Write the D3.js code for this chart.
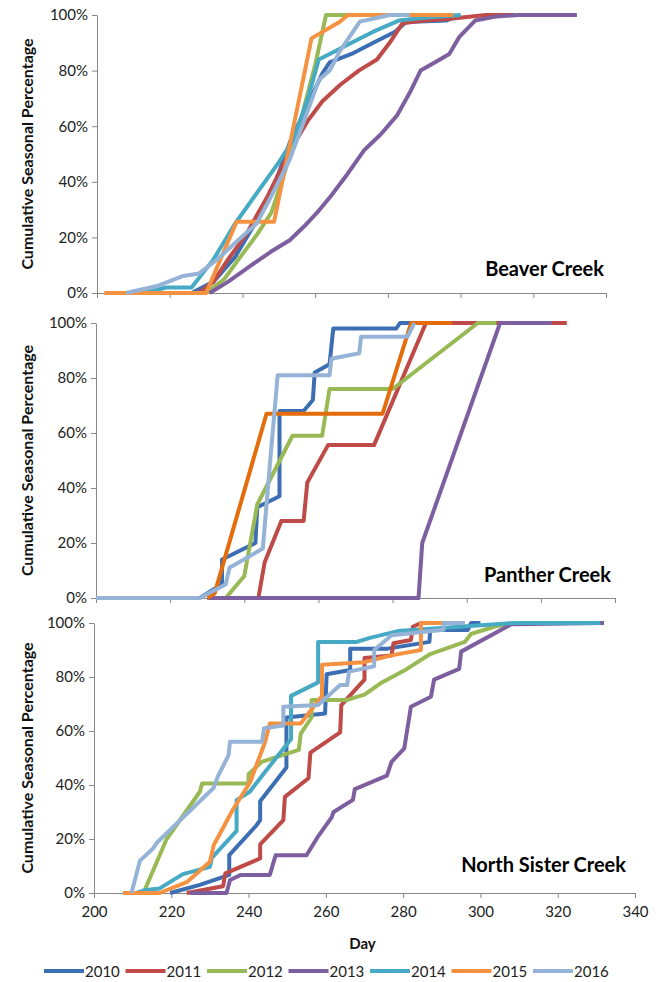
<!DOCTYPE html>
<html>
<head>
<meta charset="utf-8">
<script src="https://cdn.jsdelivr.net/npm/d3@7"></script>
<style>
  body { margin: 0; background: #fff; }
  svg { display: block; font-family: Lato, "Open Sans", sans-serif; }
</style>
</head>
<body>
<div id="chart"></div>
<script>
const years = ["2010", "2011", "2012", "2013", "2014", "2015", "2016"];
const palette = ["#3C6EB4", "#BE4B48", "#98B954", "#7D5FA0", "#46AAC5", "#F59242", "#95B3D7"];
const dayTicks = [200, 220, 240, 260, 280, 300, 320, 340];
const pctTicks = [0, 20, 40, 60, 80, 100];

// Beaver Creek: [day, cumulative %]
const beaver2010 = [[226,0],[232,4],[238,13],[243,24],[248,36],[253,54],[258,68],[262,79],[264,83],[270,86],[276,90],[282,94],[285,97.5],[296,98],[300,100]];
const beaver2011 = [[228,0],[232,4],[236,12],[241,21],[247,35],[253,51],[258,62],[262,69],[267,75],[272,80],[277,84],[280.5,90],[284,97],[290,98],[296,98.5],[303,99.5],[307,100],[315,100]];
const beaver2012 = [[230,0],[235,5],[240,14],[244,21],[248,29],[252,45],[256,62],[260,82],[263,100],[275,100]];
const beaver2013 = [[231,0],[236,4],[242,9.6],[248,15],[253,19],[257,24],[260.4,28.7],[264.4,35],[269,43],[273.5,51.4],[278,57],[282.6,64],[286,72],[289,80],[293,83],[296.9,86],[299.6,92],[304,98],[310,99.5],[316,100],[332,100]];
const beaver2014 = [[213,0],[219,2],[226,2],[232,12],[238,25],[244,36],[250,47],[254,55],[258,70],[261,84],[264,86],[270,90],[276,94],[283,98],[290,99],[300,100]];
const beaver2015 = [[202,0],[230,0],[238.4,25.6],[248.7,25.6],[259,91.6],[266.8,97.6],[269,100],[298,100]];
const beaver2016 = [[208,0],[216.5,2.5],[223.4,6],[228,7],[233,12],[238,18],[243.9,25],[248,35],[253,48],[257,62],[261,76.6],[264,80],[266.8,87],[272.3,97.6],[280.6,100],[286,100]];

// Panther Creek
const panther2010 = [[228,0],[234,5],[234,14],[243,20],[243.5,33],[249.5,37],[249.5,68],[256,68],[258.5,72],[259,82],[263,85],[264,98],[281,98],[282,100],[287,100]];
const panther2011 = [[243.8,0],[245.5,13],[250,28],[256,28],[257,42],[262.6,55.6],[275,55.6],[289,100],[327,100]];
const panther2012 = [[235,0],[240,8],[243.5,34],[253,59],[261,59],[263,76],[280,76],[303,100],[308,100]];
const panther2013 = [[230,0],[287,0],[288,20],[309,100],[323,100]];
const panther2014 = [];
const panther2015 = [[230,0],[232,1.7],[246,67],[277.3,67],[285,100],[296,100]];
const panther2016 = [[200,0],[228,0],[235,5],[236,11],[245,18],[247,50],[249,81],[263,81],[263.5,87],[271,89],[271.5,95],[284,95],[285.5,99],[286,100]];

// North Sister Creek
const sister2010 = [[219.7,0],[227.4,3],[235,6.7],[235,14],[242,25],[243,27],[243,34],[249.8,46.5],[249.8,65],[259.8,66.5],[260.2,81],[266.3,82.6],[266.3,90.5],[276,90.5],[286.8,93],[287,97.4],[296.7,97.4],[297.6,100],[300,100]];
const sister2011 = [[224,0],[233.4,2.5],[234,7.3],[243,12.8],[243,18],[249,27],[249.4,35.6],[255.5,42.5],[256,52],[263.7,59.5],[264,69.6],[270,79],[270,87],[277,88],[277.5,92.5],[282,93.7],[282.5,98.6],[284.6,100],[287,100]];
const sister2012 = [[212.8,0],[218.8,20],[227.4,37.5],[228,40.6],[240,40.6],[240,44],[243.4,48.6],[253,53],[253.5,59],[256.3,65],[256.3,71.5],[265.5,71.5],[270,73.5],[274.5,78],[281,83],[287,88.5],[296,93],[297.6,96],[303.6,98.6],[308,100]];
const sister2013 = [[224.8,0],[234.3,0],[235.2,4.8],[238,6.7],[245.5,6.7],[247,14],[255,14],[258,21],[261.5,28],[262,30],[267,34.5],[267.5,38.5],[275.8,43.5],[277,48.6],[280.3,53.6],[282,69],[287.2,72.7],[288,79],[294.5,83],[295,89.4],[308,99.5],[332,100]];
const sister2014 = [[211,0],[213,1],[217,1.7],[223,7],[230,9.7],[230.5,13],[236.9,23],[236.9,34.4],[240.3,37.5],[243.8,44],[251,57],[251,73],[258,78],[258,93],[268,93],[271.4,94.5],[278.6,97],[308.8,100],[331,100]];
const sister2015 = [[207.5,0],[217,0],[224,4],[230,11.6],[231,17.8],[236,31],[240.4,41],[244.3,56],[245.5,62.8],[253.5,62.8],[259,73],[259,84.5],[270,85.5],[277,88],[284.6,90],[284.6,100],[290.6,100]];
const sister2016 = [[209.7,0],[211.9,12],[215.3,16.5],[216.2,18.5],[231,39],[232,43],[234.8,51],[235.2,56],[243.5,56],[244,61],[249,62],[249,69],[258,69.6],[263.7,77],[265.5,77],[266,82],[272.5,84],[272.5,90],[277,95.5],[290.5,97.5],[290.5,100],[296,100]];

const width = 662;
const height = 982;

const panels = [
    { name: "Beaver Creek", series: [beaver2010, beaver2011, beaver2012, beaver2013, beaver2014, beaver2015, beaver2016],
      left: 97, right: 606, top: 15, bottom: 293, titleX: 604, titleY: 276, showDays: false },
    { name: "Panther Creek", series: [panther2010, panther2011, panther2012, panther2013, panther2014, panther2015, panther2016],
      left: 96, right: 615, top: 323, bottom: 598, titleX: 611, titleY: 582, showDays: false,
      colorFix: { 5: "#E46C0A" } },
    { name: "North Sister Creek", series: [sister2010, sister2011, sister2012, sister2013, sister2014, sister2015, sister2016],
      left: 94, right: 635, top: 623, bottom: 893, titleX: 626, titleY: 872, showDays: true }
];

const svg = d3.select("#chart")
    .append("svg")
    .attr("width", width)
    .attr("height", height);

panels.forEach(p => {
    const x = d3.scaleLinear().domain([200, 340]).range([p.left, p.right]);
    const y = d3.scaleLinear().domain([0, 100]).range([p.bottom, p.top]);
    const g = svg.append("g");

    const yAxis = g.append("g")
        .attr("transform", `translate(${p.left},0)`)
        .call(d3.axisLeft(y).tickValues(pctTicks).tickFormat(d => d + "%")
            .tickSize(5).tickSizeOuter(0).tickPadding(4));

    const xAxis = g.append("g")
        .attr("transform", `translate(0,${p.bottom})`)
        .call(d3.axisBottom(x).tickValues(dayTicks)
            .tickFormat(p.showDays ? d3.format("d") : () => "")
            .tickSize(5).tickSizeOuter(0).tickPadding(8));

    [yAxis, xAxis].forEach(a => {
        a.attr("font-family", null).attr("font-size", 15);
        a.select(".domain").attr("stroke", "#888");
        a.selectAll(".tick line").attr("stroke", "#888");
        a.selectAll(".tick text").attr("fill", "#222");
    });

    g.append("text")
        .attr("transform", `translate(33,${(p.top + p.bottom) / 2}) rotate(-90)`)
        .attr("text-anchor", "middle")
        .attr("font-weight", "bold")
        .attr("font-size", 16)
        .attr("fill", "#111")
        .text("Cumulative Seasonal Percentage");

    const line = d3.line().x(d => x(d[0])).y(d => y(d[1]));

    p.series.forEach((s, i) => {
        if (!s.length) return;
        const col = (p.colorFix && p.colorFix[i]) || palette[i];
        g.append("path")
            .attr("d", line(s))
            .attr("fill", "none")
            .attr("stroke", col)
            .attr("stroke-width", 4)
            .attr("stroke-linejoin", "round");
    });

    g.append("text")
        .attr("x", p.titleX)
        .attr("y", p.titleY)
        .attr("text-anchor", "end")
        .attr("font-weight", "bold")
        .attr("font-size", 20)
        .attr("fill", "#000")
        .text(p.name);

    if (p.showDays) {
        g.append("text")
            .attr("x", (p.left + p.right) / 2 - 2)
            .attr("y", 949)
            .attr("text-anchor", "middle")
            .attr("font-weight", "bold")
            .attr("font-size", 15)
            .attr("fill", "#111")
            .text("Day");
    }
});

// legend
const legend = svg.append("g").attr("transform", "translate(44,971)");
years.forEach((yr, i) => {
    const item = legend.append("g").attr("transform", `translate(${i * 81.5},0)`);
    item.append("line")
        .attr("x1", 0).attr("x2", 40)
        .attr("stroke", palette[i])
        .attr("stroke-width", 4);
    item.append("text")
        .attr("x", 41)
        .attr("y", 5.5)
        .attr("font-size", 15)
        .attr("fill", "#222")
        .text(yr);
});
</script>
</body>
</html>
